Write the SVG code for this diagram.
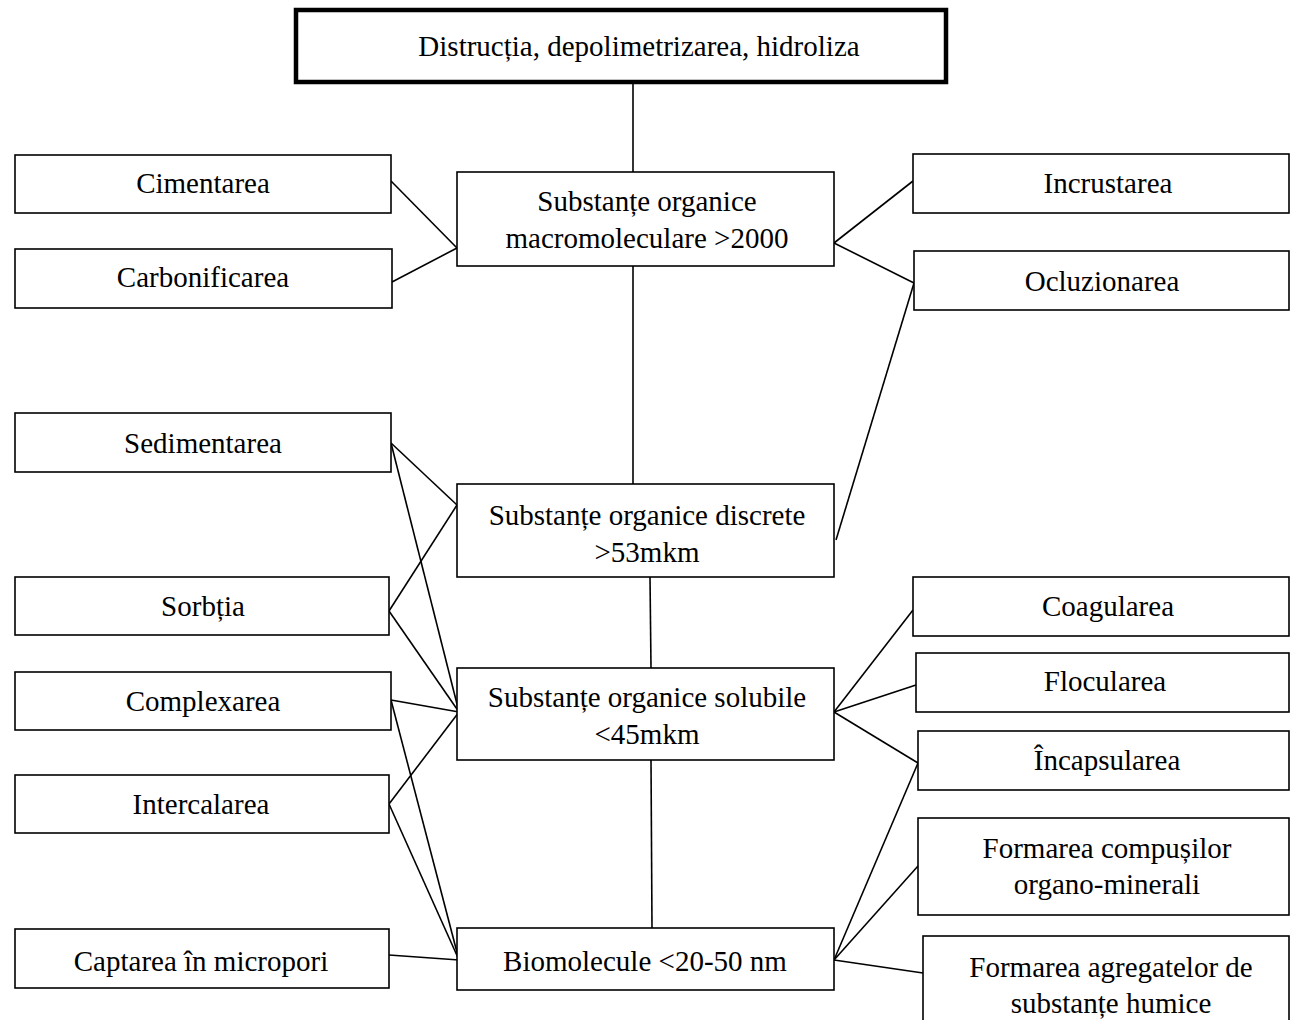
<svg xmlns="http://www.w3.org/2000/svg" width="1290" height="1020" viewBox="0 0 1290 1020">
<style>
.box{fill:#fff;stroke:#000;stroke-width:1.6}
.top{fill:#fff;stroke:#000;stroke-width:4.5}
.t{font-family:"Liberation Serif","Times New Roman",serif;font-size:29px;fill:#000;text-anchor:middle}
.c line{stroke:#000;stroke-width:1.6}
</style>
<rect width="1290" height="1020" fill="#fff"/>
<g class="c" id="connectors">
<line x1="633" y1="82" x2="633" y2="172"/>
<line x1="633" y1="266" x2="633" y2="484"/>
<line x1="650" y1="577" x2="651" y2="668"/>
<line x1="651" y1="760" x2="652" y2="928"/>
<line x1="391" y1="181" x2="457" y2="248"/>
<line x1="392" y1="282" x2="457" y2="248"/>
<line x1="834" y1="243" x2="913" y2="181"/>
<line x1="834" y1="243" x2="914" y2="283"/>
<line x1="914" y1="283" x2="836" y2="540"/>
<line x1="391" y1="443" x2="457" y2="505"/>
<line x1="389" y1="611" x2="457" y2="505"/>
<line x1="391" y1="443" x2="459" y2="712"/>
<line x1="389" y1="611" x2="459" y2="712"/>
<line x1="391" y1="700" x2="459" y2="712"/>
<line x1="389" y1="804" x2="459" y2="712"/>
<line x1="391" y1="700" x2="459" y2="960"/>
<line x1="389" y1="804" x2="459" y2="960"/>
<line x1="389" y1="955" x2="459" y2="960"/>
<line x1="834" y1="712" x2="913" y2="610"/>
<line x1="834" y1="712" x2="916" y2="685"/>
<line x1="834" y1="712" x2="918" y2="763"/>
<line x1="834" y1="960" x2="918" y2="763"/>
<line x1="834" y1="960" x2="918" y2="866"/>
<line x1="834" y1="960" x2="923" y2="973"/>
</g>
<g id="n-top"><rect class="top" x="296" y="10" width="650" height="72"/><text class="t" x="639" y="56">Distrucția, depolimetrizarea, hidroliza</text></g>
<g id="n-macro"><rect class="box" x="457" y="172" width="377" height="94"/><text class="t" x="647" y="211">Substanțe organice</text><text class="t" x="647" y="248">macromoleculare &gt;2000</text></g>
<g id="n-discrete"><rect class="box" x="457" y="484" width="377" height="93"/><text class="t" x="647" y="525">Substanțe organice discrete</text><text class="t" x="647" y="562">&gt;53mkm</text></g>
<g id="n-solubile"><rect class="box" x="457" y="668" width="377" height="92"/><text class="t" x="647" y="707">Substanțe organice solubile</text><text class="t" x="647" y="744">&lt;45mkm</text></g>
<g id="n-bio"><rect class="box" x="457" y="928" width="377" height="62"/><text class="t" x="645" y="971">Biomolecule &lt;20-50 nm</text></g>
<g id="n-cimentarea"><rect class="box" x="15" y="155" width="376" height="58"/><text class="t" x="203" y="193">Cimentarea</text></g>
<g id="n-carbonificarea"><rect class="box" x="15" y="249" width="377" height="59"/><text class="t" x="203" y="287">Carbonificarea</text></g>
<g id="n-sedimentarea"><rect class="box" x="15" y="413" width="376" height="59"/><text class="t" x="203" y="453">Sedimentarea</text></g>
<g id="n-sorbtia"><rect class="box" x="15" y="577" width="374" height="58"/><text class="t" x="203" y="616">Sorbția</text></g>
<g id="n-complexarea"><rect class="box" x="15" y="672" width="376" height="58"/><text class="t" x="203" y="711">Complexarea</text></g>
<g id="n-intercalarea"><rect class="box" x="15" y="775" width="374" height="58"/><text class="t" x="201" y="814">Intercalarea</text></g>
<g id="n-captarea"><rect class="box" x="15" y="929" width="374" height="59"/><text class="t" x="201" y="971">Captarea în micropori</text></g>
<g id="n-incrustarea"><rect class="box" x="913" y="154" width="376" height="59"/><text class="t" x="1108" y="193">Incrustarea</text></g>
<g id="n-ocluzionarea"><rect class="box" x="914" y="251" width="375" height="59"/><text class="t" x="1102" y="291">Ocluzionarea</text></g>
<g id="n-coagularea"><rect class="box" x="913" y="577" width="376" height="59"/><text class="t" x="1108" y="616">Coagularea</text></g>
<g id="n-flocularea"><rect class="box" x="916" y="653" width="373" height="59"/><text class="t" x="1105" y="691">Flocularea</text></g>
<g id="n-incapsularea"><rect class="box" x="918" y="731" width="371" height="59"/><text class="t" x="1107" y="770">Încapsularea</text></g>
<g id="n-compusi"><rect class="box" x="918" y="818" width="371" height="97"/><text class="t" x="1107" y="858">Formarea compușilor</text><text class="t" x="1107" y="894">organo-minerali</text></g>
<g id="n-agregate"><rect class="box" x="923" y="936" width="366" height="100"/><text class="t" x="1111" y="977">Formarea agregatelor de</text><text class="t" x="1111" y="1013">substanțe humice</text></g>
</svg>
